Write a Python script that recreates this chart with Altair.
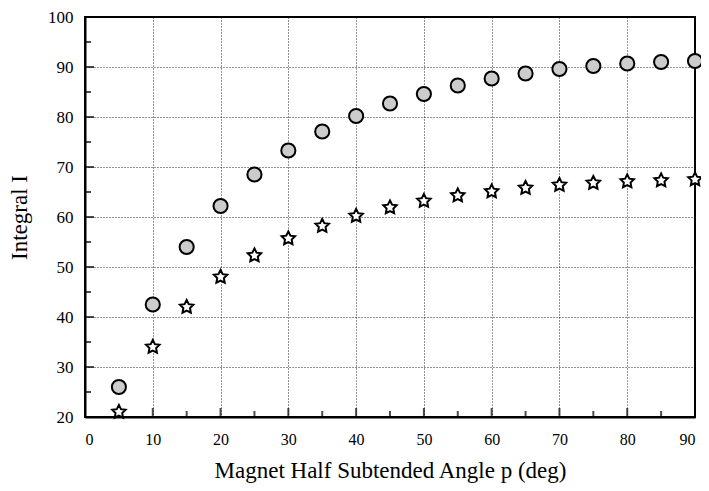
import altair as alt
import pandas as pd

angles = [5, 10, 15, 20, 25, 30, 35, 40, 45, 50, 55, 60, 65, 70, 75, 80, 85, 90]
circle_vals = [26.0, 42.5, 54.0, 62.2, 68.5, 73.3, 77.1, 80.2, 82.7, 84.6, 86.3, 87.7, 88.7, 89.6, 90.2, 90.7, 91.0, 91.2]
star_vals = [21.0, 34.0, 42.0, 48.0, 52.3, 55.7, 58.2, 60.2, 61.9, 63.2, 64.3, 65.1, 65.8, 66.4, 66.8, 67.1, 67.3, 67.5]

x_major = [0, 10, 20, 30, 40, 50, 60, 70, 80, 90]
x_minor = [5, 15, 25, 35, 45, 55, 65, 75, 85]
y_major = [20, 30, 40, 50, 60, 70, 80, 90, 100]
y_minor = [25, 35, 45, 55, 65, 75, 85, 95]

FONT = "Liberation Serif"

STAR = ("M0,-1L0.2939,-0.4045L0.9511,-0.309L0.4755,0.1545L0.5878,0.809L0,0.5"
        "L-0.5878,0.809L-0.4755,0.1545L-0.9511,-0.309L-0.2939,-0.4045Z")

circ_df = pd.DataFrame({"p": angles, "val": circle_vals})
star_df = pd.DataFrame({"p": angles, "val": star_vals})

xs = alt.Scale(domain=[0, 90], nice=False, zero=False)
ys = alt.Scale(domain=[20, 100], nice=False, zero=False)

x_axis = alt.Axis(values=x_major, orient="bottom", title="Magnet Half Subtended Angle p (deg)", grid=True,
                  gridDash=[1, 2], gridColor="black", gridOpacity=0.85, gridWidth=1,
                  ticks=False, domain=True, domainColor="black", domainWidth=2,
                  labelFont=FONT, labelFontSize=16, labelColor="black", labelPadding=14,
                  titleFont=FONT, titleFontSize=23, titleFontWeight="normal", titleColor="black",
                  titlePadding=12)
y_axis = alt.Axis(values=y_major, orient="left", title="Integral I", grid=True,
                  gridDash=[1, 2], gridColor="black", gridOpacity=0.85, gridWidth=1,
                  ticks=False, domain=True, domainColor="black", domainWidth=2,
                  labelFont=FONT, labelFontSize=17, labelColor="black", labelPadding=12,
                  titleFont=FONT, titleFontSize=23, titleFontWeight="normal", titleColor="black",
                  titlePadding=16)

circles = alt.Chart(circ_df).mark_point(shape="circle", filled=True, size=200, fill="#cccccc",
                                        stroke="black", strokeWidth=2, opacity=1).encode(
    x=alt.X("p:Q", scale=xs, axis=x_axis),
    y=alt.Y("val:Q", scale=ys, axis=y_axis),
)
stars = alt.Chart(star_df).mark_point(shape=STAR, filled=True, size=200, fill="white",
                                      stroke="black", strokeWidth=2, opacity=1).encode(
    x=alt.X("p:Q", scale=xs, axis=x_axis),
    y=alt.Y("val:Q", scale=ys, axis=y_axis),
)

xmaj = pd.DataFrame({"p": x_major, "val": [20] * len(x_major)})
xmin = pd.DataFrame({"p": x_minor, "val": [20] * len(x_minor)})
ymaj = pd.DataFrame({"val": y_major, "p": [0] * len(y_major)})
ymin = pd.DataFrame({"val": y_minor, "p": [0] * len(y_minor)})

def enc(ch):
    return ch.encode(x=alt.X("p:Q", scale=xs, axis=x_axis), y=alt.Y("val:Q", scale=ys, axis=y_axis))

xt_major = enc(alt.Chart(xmaj).mark_tick(orient="vertical", size=9, thickness=2, color="black", yOffset=-4.5))
xt_minor = enc(alt.Chart(xmin).mark_tick(orient="vertical", size=6, thickness=2, color="black", yOffset=-3))
yt_major = enc(alt.Chart(ymaj).mark_tick(orient="horizontal", size=9, thickness=2, color="black", xOffset=4.5))
yt_minor = enc(alt.Chart(ymin).mark_tick(orient="horizontal", size=6, thickness=2, color="black", xOffset=3))

chart = alt.layer(xt_major, xt_minor, yt_major, yt_minor, circles, stars).properties(
    width=610, height=400,
    autosize=alt.AutoSizeParams(type="none"),
    padding={"left": 77, "top": 9, "right": 6, "bottom": 66},
    background="white",
).configure_view(stroke="black", strokeWidth=2)

chart.save("out.html", embed_options={"renderer": "svg", "actions": False})
